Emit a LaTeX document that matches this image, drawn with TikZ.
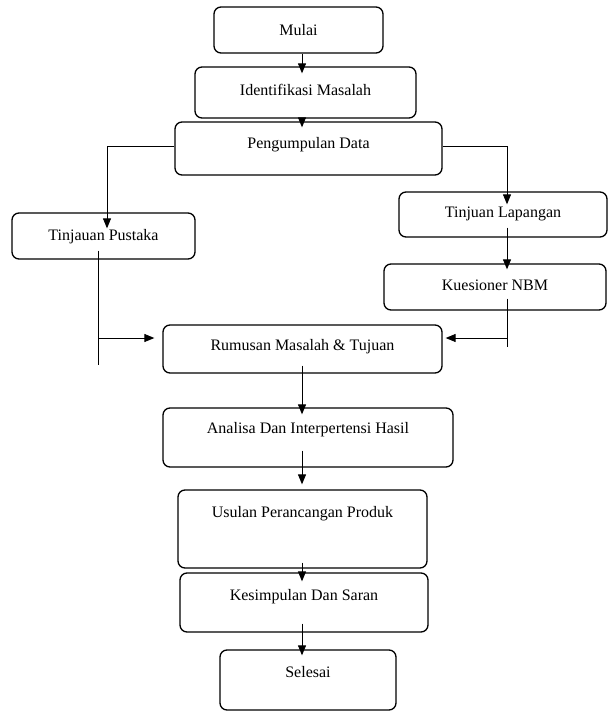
\documentclass[tikz,border=0pt]{standalone}
\usepackage{fontspec}
\setmainfont{Liberation Serif}
\usetikzlibrary{arrows.meta,positioning}

\begin{document}
\begin{tikzpicture}[
  x=1pt, y=-1pt,
  flowbox/.style={rectangle, draw, rounded corners=7pt, line width=1.3pt, text height=11pt, font=\fontsize{16}{19}\selectfont},
  arrow/.style={-{Triangle[length=10pt,width=8pt]}, line width=1pt},
  line/.style={line width=1pt}
]
\useasboundingbox (0,0) rectangle (608,712);

% nodes
\node[flowbox, minimum width=169pt, minimum height=46pt, text depth=0pt] (mulai) at (298.5,30) {Mulai};
\node[flowbox, minimum width=221pt, minimum height=51pt, text depth=6pt] (ident) at (305.5,92.5) {Identifikasi Masalah};
\node[flowbox, minimum width=267pt, minimum height=53pt, text depth=12pt] (peng) at (308.5,148.5) {Pengumpulan Data};
\node[flowbox, minimum width=183pt, minimum height=46pt, text depth=3pt] (pustaka) at (103.5,236) {Tinjauan Pustaka};
\node[flowbox, minimum width=208pt, minimum height=45pt, text depth=6pt] (lapangan) at (503,214.5) {Tinjuan Lapangan};
\node[flowbox, minimum width=222pt, minimum height=46pt, text depth=5pt] (kues) at (495,287) {Kuesioner NBM};
\node[flowbox, minimum width=279pt, minimum height=48pt, text depth=9pt] (rumusan) at (302.5,349) {Rumusan Masalah \& Tujuan};
\node[flowbox, minimum width=290pt, minimum height=59pt, text depth=20pt] (analisa) at (308,437.5) {Analisa Dan Interpertensi Hasil};
\node[flowbox, minimum width=249pt, minimum height=78pt, text depth=35pt] (usulan) at (302.5,529) {Usulan Perancangan Produk};
\node[flowbox, minimum width=248pt, minimum height=59pt, text depth=16pt] (simpul) at (304,602.5) {Kesimpulan Dan Saran};
\node[flowbox, minimum width=176pt, minimum height=60pt, text depth=17pt] (selesai) at (308,680) {Selesai};

% helper points
\coordinate (axis) at (302,0);
\coordinate (lturn) at (107,146);
\coordinate (rturn) at (507,146);
\coordinate (ljoin) at (98,338);
\coordinate (lend) at (98,365);
\coordinate (rjoin) at (507,338);
\coordinate (rend) at (507,347);

% main flow
\draw[arrow, shorten >=-7pt] (axis |- mulai.south) -- (axis |- ident.north);
\draw[arrow, shorten <=-6pt, shorten >=-6pt] (axis |- ident.south) -- (axis |- peng.north);
\draw[arrow, shorten <=-8pt, shorten >=-7pt] (axis |- rumusan.south) -- (axis |- analisa.north);
\draw[arrow, shorten <=-17pt, shorten >=5pt] (axis |- analisa.south) -- (axis |- usulan.north);
\draw[arrow, shorten <=-6pt, shorten >=-9pt] (axis |- usulan.south) -- (axis |- simpul.north);
\draw[arrow, shorten <=-9pt, shorten >=-6pt] (axis |- simpul.south) -- (axis |- selesai.north);

% branches
\draw[arrow, shorten >=-16pt] (peng.west |- lturn) -- (lturn) -- (lturn |- pustaka.north);
\draw[arrow, shorten >=-13pt] (peng.east |- rturn) -- (rturn) -- (rturn |- lapangan.north);
\draw[arrow, shorten <=-10pt, shorten >=-6pt] (rturn |- lapangan.south) -- (rturn |- kues.north);
\draw[line, shorten <=-9pt] (ljoin |- pustaka.south) -- (lend);
\draw[arrow, shorten >=8pt] (ljoin) -- (ljoin -| rumusan.west);
\draw[line, shorten <=-12pt] (rjoin |- kues.south) -- (rend);
\draw[arrow, shorten >=3pt] (rjoin) -- (rjoin -| rumusan.east);

\end{tikzpicture}
\end{document}
